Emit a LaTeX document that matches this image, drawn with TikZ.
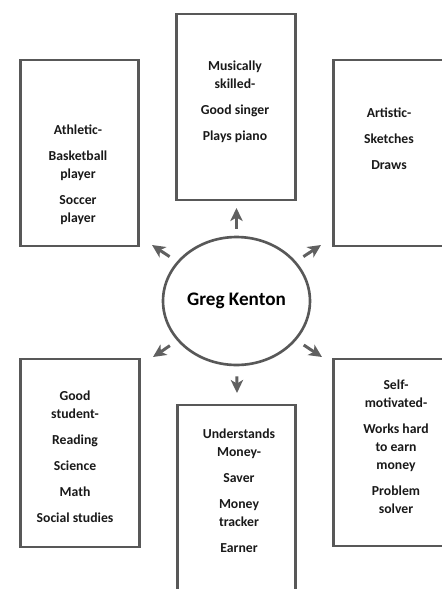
\documentclass[tikz,border=0pt]{standalone}
\usepackage{fontspec}
\setmainfont{Carlito}
\usepackage{tikz}
\usetikzlibrary{positioning,shapes.geometric,arrows.meta}

\definecolor{frame}{HTML}{585858}
\definecolor{tiptone}{HTML}{606060}

\begin{document}
\begin{tikzpicture}[x=0.02cm, y=-0.02cm]
\tikzset{
    card/.style={rectangle, draw=frame, line width=1.5pt, minimum width=2.37cm, minimum height=3.72cm, inner sep=0pt},
    cardtext/.style={anchor=north, align=center, inner sep=0pt, text=black!90, font=\bfseries\fontsize{7.8}{10.2}\selectfont},
    hub/.style={ellipse, draw=frame, line width=1.5pt, minimum width=2.94cm, minimum height=2.56cm, inner sep=0pt, font=\bfseries\fontsize{10.9}{13}\selectfont},
    arrow/.style={-{Stealth[length=7.4pt, width=7pt, inset=2pt]}, draw=tiptone, line width=1.7pt, shorten <=5pt}
}
\useasboundingbox (0,0) rectangle (442,589);
\clip (0,0) rectangle (442,589);

% centre
\node[hub] (greg) at (236.5,301) {Greg Kenton};

% boxes
\node[card] (music) at (236,107) {};
\node[card] (sport) at (79.5,153) {};
\node[card] (art) at (393,153) {};
\node[card, minimum height=3.76cm] (school) at (80,453) {};
\node[card, minimum height=4.0cm] (money) at (236.5,505) {};
\node[card, minimum height=3.74cm] (drive) at (393,452.5) {};

% box texts
\node[cardtext] (musicT) at (235,61) {Musically\\skilled-\\[4.5pt]Good singer\\[4.5pt]Plays piano};
\node[cardtext] (sportT) at (78,125) {Athletic-\\[4.5pt]Basketball\\player\\[4.5pt]Soccer\\player};
\node[cardtext] (artT) at (389,108) {Artistic-\\[4.5pt]Sketches\\[4.5pt]Draws};
\node[cardtext] (schoolT) at (75,391) {Good\\student-\\[4.5pt]Reading\\[4.5pt]Science\\[4.5pt]Math\\[4.5pt]Social studies};
\node[cardtext] (moneyT) at (239,429) {Understands\\Money-\\[4.5pt]Saver\\[4.5pt]Money\\tracker\\[4.5pt]Earner};
\node[cardtext] (driveT) at (396,380) {Self-\\motivated-\\[4.5pt]Works hard\\to earn\\money\\[4.5pt]Problem\\solver};

% arrow tips
\coordinate (tipN) at (236.5,208);
\coordinate (tipNW) at (152,245);
\coordinate (tipNE) at (321,245);
\coordinate (tipSW) at (153,357);
\coordinate (tipSE) at (322,357);
\coordinate (tipS) at (237,393);

\draw[arrow, shorten <=4pt] (greg) -- (tipN);
\draw[arrow] (greg) -- (tipNW);
\draw[arrow] (greg) -- (tipNE);
\draw[arrow] (greg) -- (tipSW);
\draw[arrow] (greg) -- (tipSE);
\draw[arrow, shorten <=5.7pt] (greg) -- (tipS);
\end{tikzpicture}
\end{document}
